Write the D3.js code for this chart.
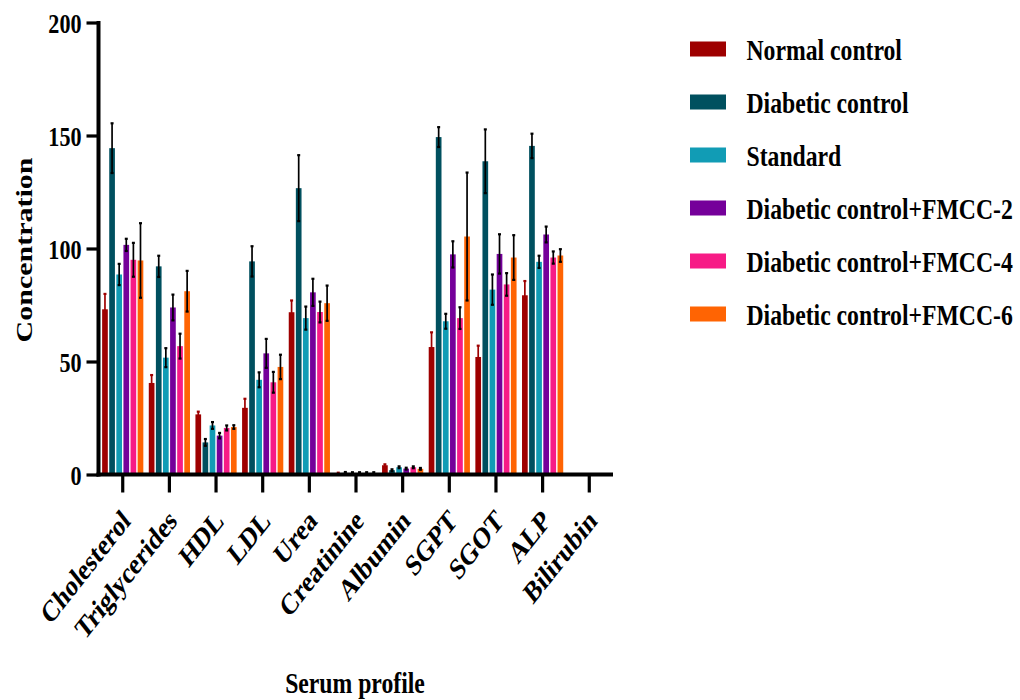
<!DOCTYPE html>
<html>
<head>
<meta charset="utf-8">
<script src="https://cdn.jsdelivr.net/npm/d3@7"></script>
<style>
  body { margin: 0; background: #fff; }
  svg { display: block; }
  text { font-family: "Liberation Serif", "Times New Roman", serif; font-weight: bold; fill: #000; }
</style>
</head>
<body>
<svg id="chart" width="1020" height="700"></svg>
<script>
// ---------- data ----------
const categories = ["Cholesterol", "Triglycerides", "HDL", "LDL", "Urea", "Creatinine", "Albumin", "SGPT", "SGOT", "ALP", "Bilirubin"];
const seriesNames = ["Normal control", "Diabetic control", "Standard", "Diabetic control+FMCC-2", "Diabetic control+FMCC-4", "Diabetic control+FMCC-6"];
const seriesColors = ["#9e0000", "#00505f", "#119cb5", "#75009a", "#f71b86", "#ff6403"];

const normalControl   = [73.1, 40.5, 26.6, 29.5, 71.8, 0.5, 4.1, 56.4, 52.0, 79.3, 0.2];
const diabeticControl = [144.4, 92.1, 14.2, 94.3, 126.7, 0.7, 1.9, 149.3, 138.6, 145.4, 0.2];
const standard        = [88.5, 51.7, 21.7, 41.9, 69.2, 0.6, 3.2, 67.8, 81.8, 94.1, 0.2];
const fmcc2           = [101.6, 73.9, 17.2, 53.6, 80.6, 0.6, 2.6, 97.4, 97.6, 106.2, 0.2];
const fmcc4           = [95.0, 56.8, 20.6, 40.8, 71.9, 0.6, 3.2, 69.2, 84.1, 96.0, 0.2];
const fmcc6           = [94.7, 81.1, 21.0, 47.6, 75.8, 0.6, 2.5, 105.3, 96.0, 96.9, 0.2];

const normalControlErr   = [6.8, 3.5, 1.2, 4.0, 5.2, 0.3, 0.4, 6.5, 5.0, 6.3, 0];
const diabeticControlErr = [11.0, 4.7, 1.5, 6.7, 14.6, 0.4, 0.4, 4.4, 14.1, 5.4, 0];
const standardErr        = [4.7, 4.2, 1.5, 3.3, 5.1, 0.4, 0.4, 3.3, 6.7, 2.7, 0];
const fmcc2Err           = [2.7, 5.7, 1.2, 6.4, 6.0, 0.4, 0.4, 5.8, 8.7, 3.5, 0];
const fmcc4Err           = [7.5, 5.5, 1.1, 4.6, 4.6, 0.4, 0.4, 4.8, 5.0, 2.7, 0];
const fmcc6Err           = [16.5, 9.0, 0.8, 5.4, 7.8, 0.4, 0.4, 28.3, 9.9, 2.8, 0];

const yTicks = [0, 50, 100, 150, 200];
const yTitle = "Concentration";
const xTitle = "Serum profile";

const seriesValues = [normalControl, diabeticControl, standard, fmcc2, fmcc4, fmcc6];
const seriesErrors = [normalControlErr, diabeticControlErr, standardErr, fmcc2Err, fmcc4Err, fmcc6Err];

// ---------- layout ----------
const SX = 0.79; // horizontal text compression of the original figure
const svg = d3.select("#chart");

const x = d3.scaleBand().domain(categories).range([99.4, 612.6]).paddingInner(0).paddingOuter(0);
const xInner = d3.scaleBand().domain(seriesNames).range([-20.6, 20.6]).paddingInner(0.2);
const y = d3.scaleLinear().domain([0, 200]).range([474.5, 22.5]);

// bars
const flat = [];
categories.forEach((c, ci) => {
  seriesNames.forEach((s, si) => {
    flat.push({ cat: c, ser: s, si, v: seriesValues[si][ci], e: seriesErrors[si][ci] });
  });
});

const gBars = svg.append("g");
gBars.selectAll("rect").data(flat).join("rect")
  .attr("x", d => x(d.cat) + x.bandwidth() / 2 + xInner(d.ser))
  .attr("y", d => y(d.v))
  .attr("width", xInner.bandwidth())
  .attr("height", d => y(0) - y(d.v))
  .attr("fill", d => seriesColors[d.si]);

// error bars
const gErr = svg.append("g");
const errData = flat.filter(d => d.e > 0);
const cx = d => x(d.cat) + x.bandwidth() / 2 + xInner(d.ser) + xInner.bandwidth() / 2;
const errColor = d => d.si === 0 ? seriesColors[0] : "#000";
gErr.selectAll("line.stem").data(errData).join("line")
  .attr("class", "stem")
  .attr("x1", cx).attr("x2", cx)
  .attr("y1", d => y(d.v + d.e)).attr("y2", d => y(Math.max(0, d.v - d.e)))
  .attr("stroke", errColor).attr("stroke-width", 1.7);
gErr.selectAll("line.capTop").data(errData).join("line")
  .attr("class", "capTop")
  .attr("x1", d => cx(d) - 1.5).attr("x2", d => cx(d) + 1.5)
  .attr("y1", d => y(d.v + d.e)).attr("y2", d => y(d.v + d.e))
  .attr("stroke", errColor).attr("stroke-width", 2.2);
gErr.selectAll("line.capBot").data(errData.filter(d => d.si !== 0)).join("line")
  .attr("class", "capBot")
  .attr("x1", d => cx(d) - 1.5).attr("x2", d => cx(d) + 1.5)
  .attr("y1", d => y(Math.max(0, d.v - d.e))).attr("y2", d => y(Math.max(0, d.v - d.e)))
  .attr("stroke", errColor).attr("stroke-width", 2.2);

// y axis
const yAxisG = svg.append("g")
  .attr("transform", "translate(98.5,0)")
  .call(d3.axisLeft(y).tickValues(yTicks).tickSize(12).tickSizeOuter(0).tickFormat(d3.format("d")));
yAxisG.select(".domain").attr("stroke", "#000").attr("stroke-width", 4)
  .attr("d", `M0,${y(200) - 1.5}V${y(0) + 2}`);
yAxisG.selectAll(".tick line").attr("stroke", "#000").attr("stroke-width", 3.2);
yAxisG.selectAll(".tick text")
  .attr("x", null).attr("dy", null)
  .attr("transform", "translate(-17,9.5) scale(" + SX + ",1)")
  .attr("text-anchor", "end")
  .style("font-size", "28px")
  .style("font-family", "'Liberation Serif', serif").style("font-weight", "bold").attr("fill", "#000");

// x axis
const xAxisG = svg.append("g")
  .attr("transform", `translate(0,${y(0)})`)
  .call(d3.axisBottom(x).tickSize(18).tickSizeOuter(0));
xAxisG.select(".domain").attr("stroke", "#000").attr("stroke-width", 4)
  .attr("d", `M96.5,0H613`);
xAxisG.selectAll(".tick line").attr("stroke", "#000").attr("stroke-width", 3.2);
xAxisG.selectAll(".tick text")
  .attr("y", null).attr("dy", null)
  .attr("text-anchor", "end")
  .attr("transform", "translate(9,48) scale(" + SX + ",1) rotate(-45)")
  .style("font-size", "30px")
  .style("font-family", "'Liberation Serif', serif").style("font-weight", "bold").attr("fill", "#000");

// axis titles
svg.append("text")
  .attr("text-anchor", "middle")
  .attr("transform", "translate(32,250) scale(" + SX + ",1) rotate(-90)")
  .style("font-size", "30px")
  .text(yTitle);

svg.append("text")
  .attr("text-anchor", "middle")
  .attr("transform", "translate(355,693) scale(" + SX + ",1)")
  .style("font-size", "30px")
  .text(xTitle);

// legend
const legendY = d3.scalePoint().domain(seriesNames).range([49, 314]);
const lg = svg.append("g").selectAll("g").data(seriesNames).join("g")
  .attr("transform", d => `translate(690,${legendY(d)})`);
lg.append("rect")
  .attr("x", 0).attr("y", -7.5).attr("width", 36).attr("height", 15)
  .attr("fill", (d, i) => seriesColors[i]);
lg.append("text")
  .attr("transform", "translate(56.5,11) scale(" + SX + ",1)")
  .style("font-size", "30px")
  .text(d => d);
</script>
</body>
</html>
